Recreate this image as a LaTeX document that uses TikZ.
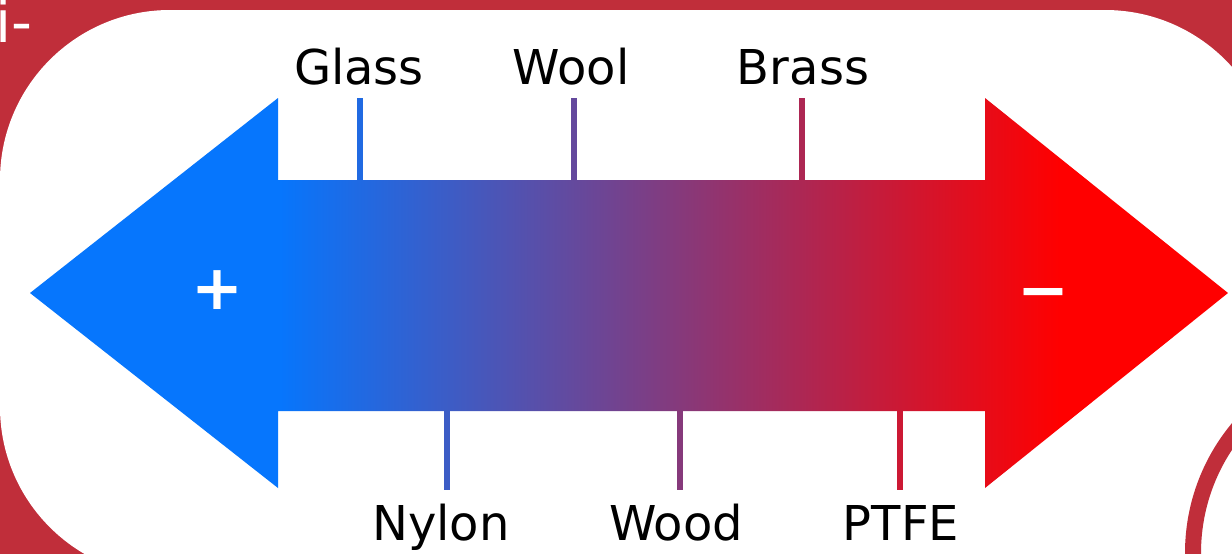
\documentclass[tikz,border=0pt]{standalone}
\usepackage{fontspec}
\setmainfont{DejaVu Sans}
\definecolor{bgred}{RGB}{192,46,58}
\definecolor{blueA}{RGB}{6,118,253}
\definecolor{redA}{RGB}{255,0,0}
\pgfdeclarehorizontalshading{arrowshade}{100bp}{color(0bp)=(blueA); color(35.35bp)=(blueA); color(68bp)=(redA); color(100bp)=(redA)}
\tikzset{
  lbl/.style={font=\fontsize{48}{56}\selectfont, anchor=base, inner sep=0pt, text=black},
  sign/.style={font=\fontsize{62}{70}\selectfont\bfseries, inner sep=0pt, text=white},
  tick/.style={line width=6pt},
}
\begin{document}
\begin{tikzpicture}[x=1pt,y=-1pt]
\useasboundingbox (0,0) rectangle (1232,554);
\clip (0,0) rectangle (1232,554);
\fill[bgred] (0,0) rectangle (1232,554);
\node[font=\fontsize{58}{64}\selectfont, text=white, anchor=base west, inner sep=0pt] (corner) at (-5,42) {i-};
\fill[white, rounded corners=170pt] (0,10) rectangle (1275,577);
\draw[bgred, line width=16pt, fill=white] (1388,553) circle[radius=195];
% arrow
\shade[shading=arrowshade] (30,293) -- (278,98) -- (278,180) -- (985,180) -- (985,98) -- (1228,293) -- (985,488) -- (985,411) -- (278,411) -- (278,488) -- cycle;
\node[sign] (plus) at (217,290) {+};
\node[sign] (minus) at (1043,299.5) {−};
% top labels
\node[lbl] (glass) at (359,84) {Glass};
\node[lbl] (wool) at (571,84) {Wool};
\node[lbl] (brass) at (803,84) {Brass};
\coordinate (glassT) at (360,98);
\coordinate (glassB) at (360,181);
\coordinate (woolT) at (574,98);
\coordinate (woolB) at (574,181);
\coordinate (brassT) at (802,98);
\coordinate (brassB) at (802,181);
\draw[tick, blueA!89.5!redA] (glassT) -- (glassB);
\draw[tick, blueA!62.2!redA] (woolT) -- (woolB);
\draw[tick, blueA!33!redA] (brassT) -- (brassB);
% bottom labels
\node[lbl] (nylon) at (441,540) {Nylon};
\node[lbl] (wood) at (676,540) {Wood};
\node[lbl] (ptfe) at (901,540) {PTFE};
\coordinate (nylonT) at (447,410);
\coordinate (nylonB) at (447,490);
\coordinate (woodT) at (680,410);
\coordinate (woodB) at (680,490);
\coordinate (ptfeT) at (900,410);
\coordinate (ptfeB) at (900,490);
\draw[tick, blueA!78.4!redA] (nylonT) -- (nylonB);
\draw[tick, blueA!48.6!redA] (woodT) -- (woodB);
\draw[tick, blueA!20.5!redA] (ptfeT) -- (ptfeB);
\end{tikzpicture}
\end{document}
